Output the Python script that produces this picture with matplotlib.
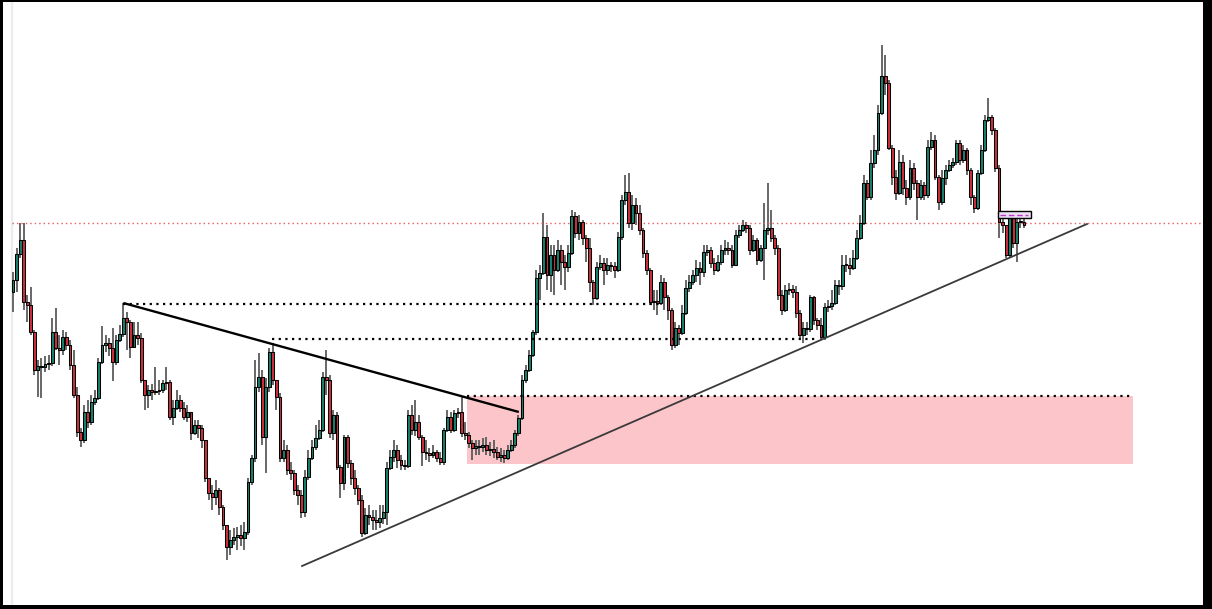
import numpy as np
import matplotlib
matplotlib.use("Agg")
import matplotlib.pyplot as plt
from matplotlib.patches import Rectangle

# price series (one value per candle); open of each candle = previous close
first_open = 308
closes = [
    320, 346, 360, 298, 295, 268, 230, 234, 233, 236,
    237, 268, 252, 250, 263, 255, 235, 205, 168, 160,
    188, 178, 198, 202, 238, 255, 257, 252, 238, 260,
    266, 282, 278, 253, 265, 262, 220, 205, 210, 208,
    209, 210, 217, 218, 183, 192, 200, 192, 183, 188,
    167, 175, 172, 160, 122, 107, 103, 110, 93, 75,
    53, 60, 63, 65, 62, 68, 118, 142, 213, 223,
    163, 213, 248, 220, 203, 142, 150, 130, 127, 110,
    105, 88, 123, 142, 153, 162, 170, 223, 220, 167,
    185, 133, 117, 163, 137, 122, 112, 100, 67, 85,
    83, 80, 78, 82, 88, 132, 143, 150, 140, 135,
    134, 185, 170, 178, 163, 148, 147, 145, 148, 142,
    138, 170, 183, 170, 187, 188, 167, 165, 157, 152,
    154, 153, 155, 150, 151, 148, 143, 145, 142, 150,
    155, 167, 182, 220, 230, 245, 268, 322, 327, 363,
    325, 345, 330, 350, 338, 333, 347, 384, 367, 378,
    362, 352, 318, 302, 333, 337, 330, 335, 334, 330,
    363, 400, 408, 377, 395, 387, 370, 347, 330, 298,
    299, 297, 318, 303, 290, 255, 272, 267, 287, 312,
    318, 325, 332, 328, 348, 350, 337, 330, 338, 350,
    352, 350, 335, 365, 370, 375, 372, 350, 360, 340,
    352, 370, 372, 362, 352, 305, 290, 310, 311, 308,
    287, 265, 272, 271, 303, 280, 275, 263, 293, 294,
    297, 315, 314, 335, 335, 332, 342, 362, 377, 417,
    403, 437, 450, 487, 524, 517, 452, 423, 407, 438,
    412, 403, 432, 417, 403, 415, 405, 453, 460, 423,
    398, 422, 430, 435, 438, 457, 440, 450, 430, 403,
    392, 427, 450, 480, 483, 470, 432, 378, 375, 345,
    382, 357, 378, 378, 375,
]
highs = [
    328, 352, 377, 377, 305, 313, 270, 240, 242, 244,
    245, 282, 292, 265, 270, 268, 260, 250, 213, 172,
    195, 200, 205, 210, 242, 274, 265, 262, 272, 265,
    275, 297, 288, 280, 278, 278, 267, 220, 215, 216,
    233, 220, 220, 233, 220, 200, 210, 205, 198, 195,
    186, 180, 180, 175, 160, 122, 115, 120, 112, 95,
    75, 70, 72, 73, 75, 78, 122, 145, 240, 247,
    230, 222, 252, 257, 220, 207, 160, 155, 138, 130,
    115, 110, 130, 150, 160, 175, 180, 228, 250, 225,
    190, 188, 135, 165, 165, 140, 130, 115, 105, 92,
    95, 90, 90, 95, 95, 138, 150, 160, 155, 145,
    140, 190, 195, 200, 185, 165, 160, 152, 155, 150,
    148, 172, 190, 188, 190, 192, 203, 178, 168, 160,
    160, 160, 162, 163, 158, 160, 153, 152, 150, 155,
    160, 170, 185, 225, 235, 250, 270, 330, 335, 387,
    375, 355, 355, 360, 355, 345, 355, 390, 388, 385,
    380, 365, 362, 320, 338, 345, 342, 342, 338, 338,
    368, 405, 425, 427, 405, 402, 395, 372, 350, 332,
    310, 310, 325, 322, 305, 292, 278, 275, 295, 320,
    325, 330, 340, 338, 355, 355, 353, 342, 345, 355,
    360, 358, 355, 370, 375, 380, 378, 375, 365, 362,
    355, 397, 417, 390, 365, 355, 310, 315, 317, 315,
    314, 290, 278, 278, 305, 304, 282, 282, 297, 300,
    310, 320, 320, 345, 345, 342, 350, 370, 385, 425,
    420, 450, 465, 495, 555, 545, 520, 455, 430, 450,
    445, 420, 440, 437, 420, 420, 418, 460, 468, 465,
    425, 430, 435, 440, 442, 460, 460, 455, 452, 432,
    405, 430, 455, 485, 502, 485, 472, 435, 382, 375,
    387, 385, 382, 382, 382,
]
lows = [
    288, 308, 342, 290, 278, 265, 225, 203, 202, 228,
    230, 234, 250, 235, 245, 250, 230, 202, 163, 153,
    157, 172, 175, 195, 200, 236, 248, 244, 219, 235,
    258, 263, 250, 242, 252, 255, 217, 190, 192, 200,
    205, 205, 207, 210, 180, 175, 190, 188, 180, 178,
    160, 165, 162, 152, 118, 100, 90, 95, 85, 70,
    40, 45, 55, 50, 54, 50, 65, 115, 138, 208,
    155, 127, 208, 215, 190, 138, 138, 125, 120, 105,
    95, 82, 83, 120, 140, 150, 160, 168, 205, 162,
    160, 130, 102, 110, 132, 115, 105, 95, 63, 65,
    75, 70, 70, 72, 76, 75, 130, 138, 132, 130,
    130, 132, 165, 164, 160, 134, 140, 138, 142, 138,
    135, 135, 168, 167, 168, 182, 163, 160, 152, 140,
    145, 145, 148, 145, 144, 142, 140, 138, 137, 140,
    148, 152, 164, 180, 217, 228, 243, 265, 300, 325,
    310, 308, 305, 328, 315, 310, 328, 345, 362, 360,
    355, 338, 308, 295, 300, 330, 315, 325, 328, 322,
    328, 360, 395, 372, 370, 375, 365, 342, 325, 295,
    290, 285, 295, 290, 280, 250, 252, 255, 265, 285,
    308, 315, 318, 315, 323, 344, 332, 325, 328, 335,
    345, 345, 332, 338, 362, 368, 367, 345, 348, 335,
    338, 320, 365, 358, 345, 300, 285, 288, 305, 302,
    282, 262, 257, 265, 268, 275, 270, 260, 260, 288,
    290, 295, 305, 310, 328, 325, 330, 340, 360, 375,
    400, 400, 432, 445, 485, 505, 450, 415, 400, 405,
    405, 395, 400, 410, 380, 400, 400, 402, 450, 420,
    390, 395, 415, 428, 432, 435, 435, 437, 425, 395,
    387, 390, 425, 448, 478, 465, 428, 362, 367, 342,
    342, 352, 338, 372, 372,
]

# drawn annotations (candle index, price)
resistance_level = 377
desc_trend = ([31, 142.1], [297, 188])
asc_trend = ([81.2, 301.7], [34, 376])
dotted_levels = [(296, 31, 181.7), (261, 72.8, 226.1), (204, 127.5, 314.6)]
zone = (127.5, 314.6, 136, 204)
marker_box = (276.7, 286.0, 382, 389)

closes = np.array(closes, dtype=float)
highs = np.array(highs, dtype=float)
lows = np.array(lows, dtype=float)
opens = np.concatenate([[first_open], closes[:-1]])
idx = np.arange(len(closes))

up_col = "#16806b"
down_col = "#cc2f3c"

fig = plt.figure(figsize=(12.12, 6.09), dpi=100, facecolor="black")
ax = fig.add_axes([3 / 1212, 4 / 609, 1200 / 1212, 603 / 609])
ax.set_facecolor("white")
for s in ax.spines.values():
    s.set_visible(False)
ax.set_xticks([])
ax.set_yticks([])
ax.set_xlim(-2.81, 334.3)
ax.set_ylim(-5, 598)

# faint left border of the price pane
ax.axvline(-0.42, color="#ececec", lw=1.6, zorder=0)

# demand zone
x0, x1, y0, y1 = zone
ax.add_patch(Rectangle((x0, y0), x1 - x0, y1 - y0, facecolor="#fcc5ca",
                       edgecolor="none", zorder=1))

# candles
ax.vlines(idx, lows, highs, color="#5c5c5c", lw=1.3, zorder=2)
bottoms = np.minimum(opens, closes)
heights = np.maximum(np.abs(closes - opens), 1.5)
colors = [up_col if c >= o else down_col for o, c in zip(opens, closes)]
ax.bar(idx, heights, bottom=bottoms, width=0.8, color=colors,
       edgecolor="black", linewidth=0.75, zorder=3)

# levels
ax.axhline(resistance_level, xmin=(-0.3 + 2.81) / (334.3 + 2.81),
           color="#e85c5c", lw=1.0, ls=(0, (1, 2.2)), zorder=2)
for price, xa, xb in dotted_levels:
    ax.plot([xa, xb], [price, price], color="black", lw=1.6,
            ls=(0, (1, 2)), zorder=4)

# trend lines
ax.plot(*desc_trend, color="black", lw=1.7, zorder=5, solid_capstyle="butt")
ax.plot(*asc_trend, color="#3a3a3a", lw=1.3, zorder=5)

# small marker box on the last candles
bx0, bx1, by0, by1 = marker_box
ax.add_patch(Rectangle((bx0, by0), bx1 - bx0, by1 - by0, facecolor="#ece0f4",
                       edgecolor="black", lw=1.0, zorder=6))
ax.plot([bx0 + 0.5, bx1 - 0.8], [(by0 + by1) / 2] * 2, color="#c03cd0",
        lw=1.0, ls=(0, (4, 2)), zorder=7)

fig.savefig("out.png", dpi=100, facecolor="black")
